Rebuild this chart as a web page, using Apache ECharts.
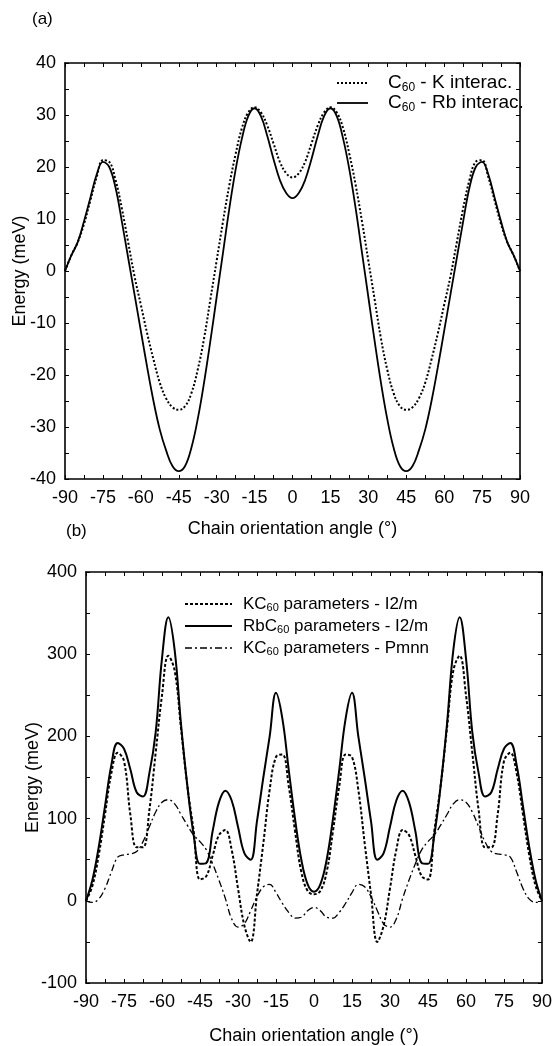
<!DOCTYPE html>
<html>
<head>
<meta charset="utf-8">
<script src="https://cdn.jsdelivr.net/npm/echarts@6/dist/echarts.min.js"></script>
<style>
html,body{margin:0;padding:0;background:#fff;}
#c{width:555px;height:1046px;}
</style>
</head>
<body>
<div id="c"></div>
<script>
// ---- data ----
var angles = [-90,-87.5,-85,-82.5,-80,-77.5,-75,-72.5,-70,-67.5,-65,-62.5,-60,-57.5,-55,-52.5,-50,-47.5,-45,-42.5,-40,-37.5,-35,-32.5,-30,-27.5,-25,-22.5,-20,-17.5,-15,-12.5,-10,-7.5,-5,-2.5,0,
  2.5,5,7.5,10,12.5,15,17.5,20,22.5,25,27.5,30,32.5,35,37.5,40,42.5,45,47.5,50,52.5,55,57.5,60,62.5,65,67.5,70,72.5,75,77.5,80,82.5,85,87.5,90];
var xTicks = [-90,-75,-60,-45,-30,-15,0,15,30,45,60,75,90];
var yTicksA = [-40,-30,-20,-10,0,10,20,30,40];
var yTicksB = [-100,0,100,200,300,400];

// panel (a)
var kInterA = [0,3,5.5,9,13.5,18,21.3,21,17.5,12,5.5,-1,-6.5,-12,-17,-21.5,-24.5,-26.2,-26.7,-26,-23.5,-19,-13,-5.5,2,9.5,16.5,22.5,27.5,30.5,31.5,30.5,28,24.5,21,18.8,18,
  18.8,21,24.5,28,30.5,31.5,30.5,27.5,22.5,16.5,9.5,2,-5.5,-13,-19,-23.5,-26,-26.7,-26.2,-24.5,-21.5,-17,-12,-6.5,-1,5.5,12,17.5,21,21.3,18,13.5,9,5.5,3,0];
var rbInterA = [0,3,5.5,9.5,14,18.5,21,20,16,9.5,2.5,-4.5,-11.5,-18.5,-25,-30.5,-34.5,-37.5,-38.5,-37.5,-34,-28.5,-21.5,-13.5,-5,3.5,12,19.5,25.5,29.8,31.3,29.8,26,21.5,17.5,15,14,
  15,17.5,21.5,26,29.8,31.3,29.8,25.5,19.5,12,3.5,-5,-13.5,-21.5,-28.5,-34,-37.5,-38.5,-37.5,-34.5,-30.5,-25,-18.5,-11.5,-4.5,2.5,9.5,16,20,21,18.5,14,9.5,5.5,3,0];

// panel (b)
var kI2mB = [0,18,55,105,155,180,170,105,65,65,110,180,250,298,280,210,140,85,26,30,55,80,86,62,15,-30,-50,8,70,135,175,178,140,85,35,12,8,
  12,35,85,140,178,175,135,70,8,-50,-30,15,62,86,80,55,30,26,85,140,210,280,298,250,180,110,65,65,105,170,180,155,105,55,18,0];
var rbI2mB = [0,25,65,115,165,192,185,160,132,127,155,205,295,345,305,215,140,80,45,46,85,120,134,122,90,58,50,97,150,200,253,222,160,100,50,20,11,
  20,50,100,160,222,253,200,150,97,50,58,90,122,134,120,85,46,45,80,140,215,305,345,295,205,155,127,132,160,185,192,165,115,65,25,0];
var kPmnnB = [0,-2,2,15,35,53,56,57,60,72,90,108,120,123,118,105,92,80,72,62,45,25,3,-22,-32,-28,-12,5,17,20,10,-3,-14,-21,-20,-12,-8,
  -12,-20,-21,-14,-3,10,20,17,5,-12,-28,-32,-22,3,25,45,62,72,80,92,105,118,123,120,108,90,72,60,57,56,53,35,15,2,-2,0];

var labelsA = ['C{sub|60} - K interac.', 'C{sub|60} - Rb interac.'];
var labelsB = ['KC{sub|60} parameters - I2/m', 'RbC{sub|60} parameters - I2/m', 'KC{sub|60} parameters - Pmnn'];

function pairs(vals){ return angles.map(function(a,i){ return [a, vals[i]]; }); }

var FONT = "'Liberation Sans', Arial, Helvetica, sans-serif";
var black = '#000';

var dashA = [[2,2], null];
var dashB = [[3,2], null, [7,3,2,3]];
var widthA = [2, 1.8];
var widthB = [2, 2, 1.3];

function xAx(grid, pos, showLabel, name, nameGap){
  return {
    type:'value', gridIndex:grid, position:pos, min:-90, max:90, interval:15,
    axisLine:{show:true, onZero:false, lineStyle:{color:black, width:1.6}},
    axisTick:{show:true, inside:true, length:4, lineStyle:{color:black, width:1}},
    minorTick:{show:true, splitNumber:2, length:4, lineStyle:{color:black, width:1}},
    splitLine:{show:false},
    axisLabel:{show:showLabel, color:black, fontFamily:FONT, fontSize:18, margin:10,
      formatter:function(v){ return xTicks.indexOf(v) >= 0 ? String(v) : ''; }},
    name: name || '', nameLocation:'middle', nameGap: nameGap || 0, nameMoveOverlap:false,
    nameTextStyle:{color:black, fontFamily:FONT, fontSize:18}
  };
}
function yAx(grid, pos, showLabel, min, max, interval, ticks, name, nameGap){
  return {
    type:'value', gridIndex:grid, position:pos, min:min, max:max, interval:interval,
    axisLine:{show:true, onZero:false, lineStyle:{color:black, width:1.6}},
    axisTick:{show:true, inside:true, length:4, lineStyle:{color:black, width:1}},
    minorTick:{show:true, splitNumber:2, length:4, lineStyle:{color:black, width:1}},
    splitLine:{show:false},
    axisLabel:{show:showLabel, color:black, fontFamily:FONT, fontSize:18, margin:9,
      formatter:function(v){ return ticks.indexOf(v) >= 0 ? String(v) : ''; }},
    name: name || '', nameLocation:'middle', nameGap: nameGap || 0, nameRotate:90, nameMoveOverlap:false,
    nameTextStyle:{color:black, fontFamily:FONT, fontSize:18}
  };
}

function legendItems(labels, dashes, widths, x1, x2, xt, y0, dy, fs, subfs, subpad){
  var out = [];
  labels.forEach(function(lab, i){
    var y = y0 + i*dy;
    out.push({type:'line', shape:{x1:x1, y1:y, x2:x2, y2:y},
      style:{stroke:black, lineWidth:widths[i], lineDash:dashes[i] || null}});
    out.push({type:'text', x:xt, y:y, style:{text:lab, fill:black, fontFamily:FONT, fontSize:fs,
      verticalAlign:'middle', align:'left',
      rich:{sub:{fontSize:subfs, fontFamily:FONT, fill:black, padding:[subpad,0,0,0]}}}});
  });
  return out;
}

var graphics = [
  {type:'text', left:32, top:11, style:{text:'(a)', font:"17px 'Liberation Sans', Arial, sans-serif", fill:black}},
  {type:'text', left:66, top:523, style:{text:'(b)', font:"17px 'Liberation Sans', Arial, sans-serif", fill:black}}
].concat(legendItems(labelsA, dashA, widthA, 337, 368, 388, 83, 20, 19, 12, 9))
 .concat(legendItems(labelsB, dashB, widthB, 185, 232, 243, 604, 22, 17, 11, 8));

var option = {
  animation:false,
  backgroundColor:'#fff',
  textStyle:{fontFamily:FONT},
  grid:[
    {left:65, top:63, width:455, height:416, show:false},
    {left:86, top:572, width:458, height:413, show:false}
  ],
  xAxis:[
    xAx(0,'bottom',true,'Chain orientation angle (°)',41),
    xAx(0,'top',false),
    xAx(1,'bottom',true,'Chain orientation angle (°)',44),
    xAx(1,'top',false)
  ],
  yAxis:[
    yAx(0,'left',true,-40,40,10,yTicksA,'Energy (meV)',36),
    yAx(0,'right',false,-40,40,10,yTicksA),
    yAx(1,'left',true,-100,400,100,yTicksB,'Energy (meV)',44),
    yAx(1,'right',false,-100,400,100,yTicksB)
  ],
  graphic: graphics,
  series:[
    {name:'C60 - K interac.', type:'line', xAxisIndex:0, yAxisIndex:0, data:pairs(kInterA), smooth:0.4, showSymbol:false, symbol:'none',
      lineStyle:{color:black, width:2, type:[2,2]}},
    {name:'C60 - Rb interac.', type:'line', xAxisIndex:0, yAxisIndex:0, data:pairs(rbInterA), smooth:0.4, showSymbol:false, symbol:'none',
      lineStyle:{color:black, width:1.8, type:'solid'}},
    {name:'KC60 parameters - I2/m', type:'line', xAxisIndex:2, yAxisIndex:2, data:pairs(kI2mB), smooth:0.4, showSymbol:false, symbol:'none',
      lineStyle:{color:black, width:2, type:[3,2]}},
    {name:'RbC60 parameters - I2/m', type:'line', xAxisIndex:2, yAxisIndex:2, data:pairs(rbI2mB), smooth:0.4, showSymbol:false, symbol:'none',
      lineStyle:{color:black, width:2, type:'solid'}},
    {name:'KC60 parameters - Pmnn', type:'line', xAxisIndex:2, yAxisIndex:2, data:pairs(kPmnnB), smooth:0.4, showSymbol:false, symbol:'none',
      lineStyle:{color:black, width:1.3, type:[7,3,2,3]}}
  ]
};
var chart = echarts.init(document.getElementById('c'), null, {renderer:'canvas'});
chart.setOption(option);
</script>
</body>
</html>
